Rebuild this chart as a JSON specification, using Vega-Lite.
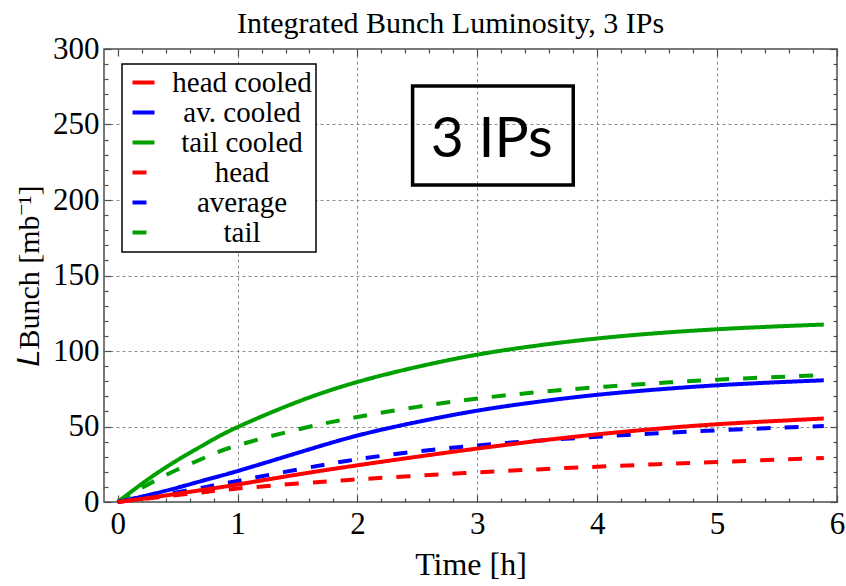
{
  "$schema": "https://vega.github.io/schema/vega-lite/v6.json",
  "width": 733,
  "height": 453,
  "autosize": {"type": "none"},
  "padding": {"left": 104, "top": 49, "right": 9, "bottom": 84},
  "background": "white",
  "title": {"text": "Integrated Bunch Luminosity, 3 IPs", "font": "Liberation Serif", "fontSize": 30, "fontWeight": "normal", "color": "black", "offset": -6, "dx": -20, "anchor": "middle"},
  "config": {
    "view": {"stroke": "#4d4d4d", "strokeWidth": 1.5},
    "axis": {"labelFlush": false, "labelOverlap": false, "tickColor": "#4d4d4d", "tickWidth": 1.2, "domain": false, "grid": false, "title": null}
  },
  "datasets": {
    "curves": [
      {"t": 0, "series": "tail cooled", "L": 0}, {"t": 0.25, "series": "tail cooled", "L": 14.8}, {"t": 0.5, "series": "tail cooled", "L": 27.8}, {"t": 0.75, "series": "tail cooled", "L": 39.3}, {"t": 1, "series": "tail cooled", "L": 49.6}, {"t": 1.5, "series": "tail cooled", "L": 66.3}, {"t": 2, "series": "tail cooled", "L": 79.5}, {"t": 2.5, "series": "tail cooled", "L": 89.5}, {"t": 3, "series": "tail cooled", "L": 97.6}, {"t": 3.5, "series": "tail cooled", "L": 103.6}, {"t": 4, "series": "tail cooled", "L": 108.3}, {"t": 4.5, "series": "tail cooled", "L": 111.8}, {"t": 5, "series": "tail cooled", "L": 114.4}, {"t": 5.5, "series": "tail cooled", "L": 116.3}, {"t": 5.89, "series": "tail cooled", "L": 117.5},
      {"t": 0, "series": "tail", "L": 0}, {"t": 0.25, "series": "tail", "L": 11.5}, {"t": 0.5, "series": "tail", "L": 21.5}, {"t": 0.75, "series": "tail", "L": 30.2}, {"t": 1, "series": "tail", "L": 37.5}, {"t": 1.5, "series": "tail", "L": 48}, {"t": 2, "series": "tail", "L": 56.3}, {"t": 2.5, "series": "tail", "L": 63}, {"t": 3, "series": "tail", "L": 68.5}, {"t": 3.5, "series": "tail", "L": 72.7}, {"t": 4, "series": "tail", "L": 76}, {"t": 4.5, "series": "tail", "L": 78.7}, {"t": 5, "series": "tail", "L": 81}, {"t": 5.5, "series": "tail", "L": 82.8}, {"t": 5.89, "series": "tail", "L": 84},
      {"t": 0, "series": "av. cooled", "L": 0}, {"t": 0.25, "series": "av. cooled", "L": 4.5}, {"t": 0.5, "series": "av. cooled", "L": 9.5}, {"t": 0.75, "series": "av. cooled", "L": 15}, {"t": 1, "series": "av. cooled", "L": 20.5}, {"t": 1.5, "series": "av. cooled", "L": 32.5}, {"t": 2, "series": "av. cooled", "L": 44}, {"t": 2.5, "series": "av. cooled", "L": 53}, {"t": 3, "series": "av. cooled", "L": 60.5}, {"t": 3.5, "series": "av. cooled", "L": 66.3}, {"t": 4, "series": "av. cooled", "L": 71}, {"t": 4.5, "series": "av. cooled", "L": 74.5}, {"t": 5, "series": "av. cooled", "L": 77.3}, {"t": 5.5, "series": "av. cooled", "L": 79.3}, {"t": 5.89, "series": "av. cooled", "L": 80.6},
      {"t": 0, "series": "average", "L": 0}, {"t": 0.25, "series": "average", "L": 3.2}, {"t": 0.5, "series": "average", "L": 6.5}, {"t": 0.75, "series": "average", "L": 10.2}, {"t": 1, "series": "average", "L": 14}, {"t": 1.5, "series": "average", "L": 21.5}, {"t": 2, "series": "average", "L": 28.3}, {"t": 2.5, "series": "average", "L": 33.5}, {"t": 3, "series": "average", "L": 37.5}, {"t": 3.5, "series": "average", "L": 40.6}, {"t": 4, "series": "average", "L": 43.2}, {"t": 4.5, "series": "average", "L": 45.5}, {"t": 5, "series": "average", "L": 47.5}, {"t": 5.5, "series": "average", "L": 49.1}, {"t": 5.89, "series": "average", "L": 50.4},
      {"t": 0, "series": "head cooled", "L": 0}, {"t": 0.25, "series": "head cooled", "L": 2.6}, {"t": 0.5, "series": "head cooled", "L": 5.5}, {"t": 0.75, "series": "head cooled", "L": 8.5}, {"t": 1, "series": "head cooled", "L": 11.6}, {"t": 1.5, "series": "head cooled", "L": 18.2}, {"t": 2, "series": "head cooled", "L": 24.3}, {"t": 2.5, "series": "head cooled", "L": 30}, {"t": 3, "series": "head cooled", "L": 35.4}, {"t": 3.5, "series": "head cooled", "L": 40.4}, {"t": 4, "series": "head cooled", "L": 44.8}, {"t": 4.5, "series": "head cooled", "L": 48.5}, {"t": 5, "series": "head cooled", "L": 51.5}, {"t": 5.5, "series": "head cooled", "L": 53.7}, {"t": 5.89, "series": "head cooled", "L": 55.3},
      {"t": 0, "series": "head", "L": 0}, {"t": 0.25, "series": "head", "L": 2.3}, {"t": 0.5, "series": "head", "L": 4.6}, {"t": 0.75, "series": "head", "L": 6.8}, {"t": 1, "series": "head", "L": 8.9}, {"t": 1.5, "series": "head", "L": 12.2}, {"t": 2, "series": "head", "L": 15}, {"t": 2.5, "series": "head", "L": 17.4}, {"t": 3, "series": "head", "L": 19.6}, {"t": 3.5, "series": "head", "L": 21.6}, {"t": 4, "series": "head", "L": 23.4}, {"t": 4.5, "series": "head", "L": 25}, {"t": 5, "series": "head", "L": 26.5}, {"t": 5.5, "series": "head", "L": 28}, {"t": 5.89, "series": "head", "L": 29.2}
    ],
    "annot": [
      {"x1": 2.46, "x2": 3.8, "y1": 209.9, "y2": 275.5, "tx": 3.12, "ty": 228.4, "label": "3 IPs"}
    ]
  },
  "resolve": {"axis": {"x": "independent", "y": "independent"}},
  "layer": [
    {
      "data": {"name": "curves"},
      "mark": {"type": "point", "opacity": 0},
      "encoding": {
        "x": {"field": "t", "type": "quantitative", "scale": {"domain": [-0.114, 6], "nice": false, "zero": false},
          "axis": {"orient": "bottom", "values": [1, 2, 3, 4, 5], "grid": true, "gridDash": [3, 3], "gridColor": "#8c8c8c", "gridWidth": 1, "ticks": false, "labels": false, "domain": false, "title": null}},
        "y": {"field": "L", "type": "quantitative", "scale": {"domain": [0, 300], "nice": false, "zero": false},
          "axis": {"orient": "left", "values": [50, 100, 150, 200, 250], "grid": true, "gridDash": [3, 3], "gridColor": "#8c8c8c", "gridWidth": 1, "ticks": false, "labels": false, "domain": false, "title": null}}
      }
    },
    {
      "data": {"name": "curves"},
      "mark": {"type": "point", "opacity": 0},
      "encoding": {
        "x": {"field": "t", "type": "quantitative", "scale": {"domain": [-0.114, 6], "nice": false, "zero": false},
          "axis": {"orient": "top", "values": [0, 1, 2, 3, 4, 5, 6], "tickSize": -7, "labels": false, "title": null}},
        "y": {"field": "L", "type": "quantitative", "scale": {"domain": [0, 300], "nice": false, "zero": false},
          "axis": {"orient": "right", "values": [0, 50, 100, 150, 200, 250, 300], "tickSize": -7, "labels": false, "title": null}}
      }
    },
    {
      "data": {"name": "curves"},
      "mark": {"type": "point", "opacity": 0},
      "encoding": {
        "x": {"field": "t", "type": "quantitative", "scale": {"domain": [-0.114, 6], "nice": false, "zero": false},
          "axis": {"orient": "bottom", "values": [0.2, 0.4, 0.6, 0.8, 1.2, 1.4, 1.6, 1.8, 2.2, 2.4, 2.6, 2.8, 3.2, 3.4, 3.6, 3.8, 4.2, 4.4, 4.6, 4.8, 5.2, 5.4, 5.6, 5.8], "tickSize": -4, "labels": false, "title": null}},
        "y": {"field": "L", "type": "quantitative", "scale": {"domain": [0, 300], "nice": false, "zero": false},
          "axis": {"orient": "left", "values": [10, 20, 30, 40, 60, 70, 80, 90, 110, 120, 130, 140, 160, 170, 180, 190, 210, 220, 230, 240, 260, 270, 280, 290], "tickSize": -4, "labels": false, "title": null}}
      }
    },
    {
      "data": {"name": "curves"},
      "mark": {"type": "point", "opacity": 0},
      "encoding": {
        "x": {"field": "t", "type": "quantitative", "scale": {"domain": [-0.114, 6], "nice": false, "zero": false},
          "axis": {"orient": "top", "values": [0.2, 0.4, 0.6, 0.8, 1.2, 1.4, 1.6, 1.8, 2.2, 2.4, 2.6, 2.8, 3.2, 3.4, 3.6, 3.8, 4.2, 4.4, 4.6, 4.8, 5.2, 5.4, 5.6, 5.8], "tickSize": -4, "labels": false, "title": null}},
        "y": {"field": "L", "type": "quantitative", "scale": {"domain": [0, 300], "nice": false, "zero": false},
          "axis": {"orient": "right", "values": [10, 20, 30, 40, 60, 70, 80, 90, 110, 120, 130, 140, 160, 170, 180, 190, 210, 220, 230, 240, 260, 270, 280, 290], "tickSize": -4, "labels": false, "title": null}}
      }
    },
    {
      "data": {"name": "annot"},
      "mark": {"type": "rect", "filled": false, "stroke": "black", "strokeWidth": 3.5},
      "encoding": {
        "x": {"field": "x1", "type": "quantitative", "scale": {"domain": [-0.114, 6], "nice": false, "zero": false}, "axis": null},
        "x2": {"field": "x2"},
        "y": {"field": "y1", "type": "quantitative", "scale": {"domain": [0, 300], "nice": false, "zero": false}, "axis": null},
        "y2": {"field": "y2"}
      }
    },
    {
      "data": {"name": "annot"},
      "mark": {"type": "text", "font": "Lato", "fontSize": 57, "align": "center", "baseline": "alphabetic", "color": "black"},
      "encoding": {
        "x": {"field": "tx", "type": "quantitative", "scale": {"domain": [-0.114, 6], "nice": false, "zero": false}, "axis": null},
        "y": {"field": "ty", "type": "quantitative", "scale": {"domain": [0, 300], "nice": false, "zero": false}, "axis": null},
        "text": {"field": "label"}
      }
    },
    {
      "data": {"name": "curves"},
      "mark": {"type": "line", "strokeWidth": 4, "interpolate": "natural", "strokeCap": "butt"},
      "encoding": {
        "x": {"field": "t", "type": "quantitative", "scale": {"domain": [-0.114, 6], "nice": false, "zero": false},
          "axis": {"orient": "bottom", "values": [0, 1, 2, 3, 4, 5, 6], "tickSize": -7, "labelPadding": 14, "labelFont": "Liberation Serif", "labelFontSize": 31, "labelColor": "black", "title": "Time [h]", "titleFont": "Liberation Serif", "titleFontSize": 32, "titleFontWeight": "normal", "titleColor": "black", "titlePadding": 10}},
        "y": {"field": "L", "type": "quantitative", "scale": {"domain": [0, 300], "nice": false, "zero": false},
          "axis": {"orient": "left", "values": [0, 50, 100, 150, 200, 250, 300], "tickSize": -7, "labelPadding": 12, "labelFont": "Liberation Serif", "labelFontSize": 31, "labelColor": "black", "title": "𝐿Bunch [mb⁻¹]", "titleFont": "Liberation Serif", "titleFontSize": 30, "titleFontWeight": "normal", "titleColor": "black", "titlePadding": 8}},
        "color": {"field": "series", "type": "nominal",
          "scale": {"domain": ["head cooled", "av. cooled", "tail cooled", "head", "average", "tail"], "range": ["#ff0000", "#0000ff", "#00a000", "#ff0000", "#0000ff", "#00a000"]},
          "legend": {"orient": "none", "legendX": 18, "legendY": 15, "title": null, "symbolType": "stroke", "symbolStrokeWidth": 4, "symbolSize": 484, "symbolOffset": 3, "labelFont": "Liberation Serif", "labelFontSize": 29, "labelColor": "black", "labelAlign": "center", "labelOffset": 84, "labelLimit": 0, "rowPadding": 0, "padding": 4, "strokeColor": "black", "fillColor": "white",
            "encode": {"legend": {"update": {"strokeWidth": {"value": 1.5}}}, "symbols": {"update": {"strokeDash": {"signal": "indexof(['head','average','tail'], datum.value) >= 0 ? [9,5] : [1,0]"}}}}}},
        "strokeDash": {"field": "series", "type": "nominal",
          "scale": {"domain": ["head cooled", "av. cooled", "tail cooled", "head", "average", "tail"], "range": [[1, 0], [1, 0], [1, 0], [14, 14], [14, 14], [14, 14]]},
          "legend": null}
      }
    }
  ]
}
